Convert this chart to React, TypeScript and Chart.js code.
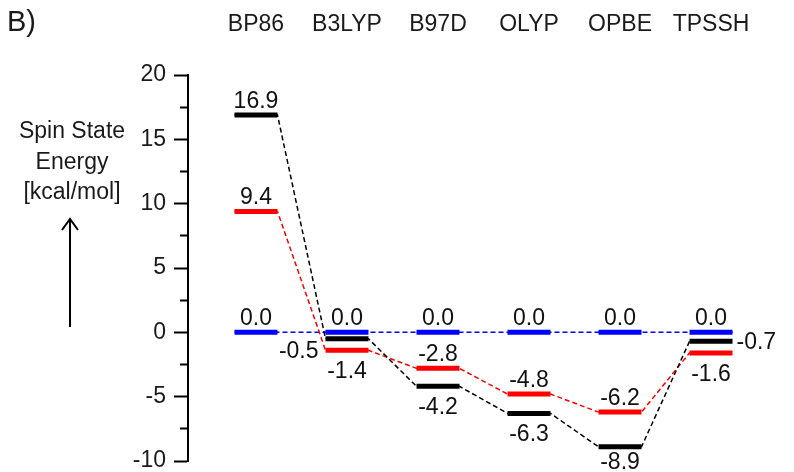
import React, { useEffect, useRef } from 'react';
import { Chart, registerables } from 'chart.js';

Chart.register(...registerables);

// ---- data ----
const categories = ['BP86', 'B3LYP', 'B97D', 'OLYP', 'OPBE', 'TPSSH'];
const blackLevels = [16.9, -0.5, -4.2, -6.3, -8.9, -0.7];
const redLevels = [9.4, -1.4, -2.8, -4.8, -6.2, -1.6];
const blueLevels = [0.0, 0.0, 0.0, 0.0, 0.0, 0.0];
const yMin = -10;
const yMax = 20;
const yMajorStep = 5;
const yMinorStep = 2.5;
const panelLabel = 'B)';
const yTitleLines = ['Spin State', 'Energy', '[kcal/mol]'];

// label placement for each level (top / bottom / left / right)
const blackLabelSide = ['top', 'left', 'bottom', 'bottom', 'bottom', 'right'];
const redLabelSide = ['top', 'bottom', 'top', 'top', 'top', 'bottom'];
const blueLabelSide = ['top', 'top', 'top', 'top', 'top', 'top'];

const FONT = '"Liberation Sans", Arial, Helvetica, sans-serif';
const HALF = 0.236; // half width of a level bar, in category units
const X_MIN = -0.747;
const X_MAX = 5.648;

const BLACK = '#000000';
const RED = '#ff0000';
const BLUE = '#0000ff';

const levelPoints = (vals: number[]) =>
  vals.flatMap((v, i) => [
    { x: i - HALF, y: v },
    { x: i + HALF, y: v },
    { x: i + 0.5, y: null as any },
  ]);
const pathPoints = (vals: number[]) =>
  vals.flatMap((v, i) => [
    { x: i - HALF, y: v },
    { x: i + HALF, y: v },
  ]);

const decorPlugin = {
  id: 'decor',
  afterDraw(chart: any) {
    const { ctx, scales } = chart;
    const x = scales.x;
    const y = scales.y;
    ctx.save();
    // panel label
    ctx.fillStyle = '#1a1a1a';
    ctx.font = `29px ${FONT}`;
    ctx.textAlign = 'left';
    ctx.textBaseline = 'middle';
    ctx.fillText(panelLabel, 7, 23);
    // y title
    ctx.font = `23px ${FONT}`;
    ctx.textAlign = 'center';
    yTitleLines.forEach((t, i) => ctx.fillText(t, 72, 132 + i * 30.5));
    // arrow
    ctx.strokeStyle = '#000';
    ctx.lineWidth = 2;
    ctx.beginPath();
    ctx.moveTo(70, 327);
    ctx.lineTo(70, 220);
    ctx.moveTo(62, 230);
    ctx.lineTo(70, 219);
    ctx.lineTo(78, 230);
    ctx.stroke();

    // level value labels
    ctx.fillStyle = '#111';
    ctx.font = `23px ${FONT}`;
    ctx.textBaseline = 'alphabetic';
    const halfPx = Math.abs(x.getPixelForValue(HALF) - x.getPixelForValue(0));
    const drawSet = (vals: number[], sides: string[]) => {
      vals.forEach((v, i) => {
        const cx = x.getPixelForValue(i);
        const py = y.getPixelForValue(v);
        const text = v.toFixed(1);
        const side = sides[i];
        if (side === 'top') {
          ctx.textAlign = 'center';
          ctx.fillText(text, cx, py - 7);
        } else if (side === 'bottom') {
          ctx.textAlign = 'center';
          ctx.fillText(text, cx, Math.min(py + 28, chart.height - 3));
        } else if (side === 'left') {
          ctx.textAlign = 'right';
          ctx.fillText(text, cx - halfPx - 7, py + 19);
        } else {
          ctx.textAlign = 'left';
          ctx.fillText(text, cx + halfPx + 4, py + 8);
        }
      });
    };
    drawSet(blueLevels, blueLabelSide);
    drawSet(blackLevels, blackLabelSide);
    drawSet(redLevels, redLabelSide);
    ctx.restore();
  },
};

export default function App() {
  const ref = useRef<HTMLCanvasElement>(null);
  useEffect(() => {
    if (!ref.current) return;
    const pathStyle = { borderWidth: 1.5, borderDash: [5, 3], pointRadius: 0, fill: false, tension: 0 };
    const levelStyle = { borderWidth: 5, borderCapStyle: 'butt', pointRadius: 0, fill: false, spanGaps: false };
    const chart = new Chart(ref.current, {
      type: 'line',
      data: {
        datasets: [
          { label: 'blue path', data: pathPoints(blueLevels), borderColor: BLUE, order: 6, ...pathStyle },
          { label: 'red path', data: pathPoints(redLevels), borderColor: RED, order: 5, ...pathStyle },
          { label: 'black path', data: pathPoints(blackLevels), borderColor: BLACK, order: 4, ...pathStyle },
          { label: 'blue', data: levelPoints(blueLevels), borderColor: BLUE, order: 3, ...levelStyle },
          { label: 'red', data: levelPoints(redLevels), borderColor: RED, order: 2, ...levelStyle },
          { label: 'black', data: levelPoints(blackLevels), borderColor: BLACK, order: 1, ...levelStyle },
        ] as any,
      },
      options: {
        animation: false,
        responsive: false,
        maintainAspectRatio: false,
        layout: { padding: { left: 0, top: 0, right: 24, bottom: 11 } },
        plugins: { legend: { display: false }, tooltip: { enabled: false } },
        scales: {
          x: {
            type: 'linear',
            position: 'top',
            min: X_MIN,
            max: X_MAX,
            grid: { display: false, drawTicks: false },
            border: { display: false },
            afterBuildTicks: (s: any) => {
              s.ticks = categories.map((_, i) => ({ value: i }));
            },
            afterFit: (s: any) => {
              s.height = 75;
              s.paddingLeft = 0;
              s.paddingRight = 0;
            },
            ticks: {
              autoSkip: false,
              maxRotation: 0,
              padding: 37,
              color: '#1a1a1a',
              font: { size: 23, family: FONT },
              callback: (v: any) => categories[v] ?? '',
            },
          },
          y: {
            type: 'linear',
            position: 'left',
            min: yMin,
            max: yMax,
            afterFit: (s: any) => {
              s.width = 188;
              s.paddingTop = 0;
              s.paddingBottom = 0;
            },
            ticks: {
              stepSize: yMinorStep,
              autoSkip: false,
              padding: 8,
              color: '#1a1a1a',
              font: { size: 23, family: FONT },
              callback: (v: any) => (Number(v) % yMajorStep === 0 ? String(v) : ''),
            },
            grid: {
              drawOnChartArea: false,
              tickLength: 14,
              tickWidth: 2,
              tickColor: '#000',
              tickBorderDash: (c: any) =>
                c.tick && c.tick.value % yMajorStep !== 0 ? [0, 6, 8, 40] : [],
            },
            border: { display: true, color: '#000', width: 2 },
          },
        },
      } as any,
      plugins: [decorPlugin],
    });
    return () => chart.destroy();
  }, []);
  return (
    <div style={{ position: 'absolute', left: 0, top: 0, width: 794, height: 472, background: '#fff' }}>
      <canvas ref={ref} width={794} height={472} style={{ display: 'block' }} />
    </div>
  );
}
